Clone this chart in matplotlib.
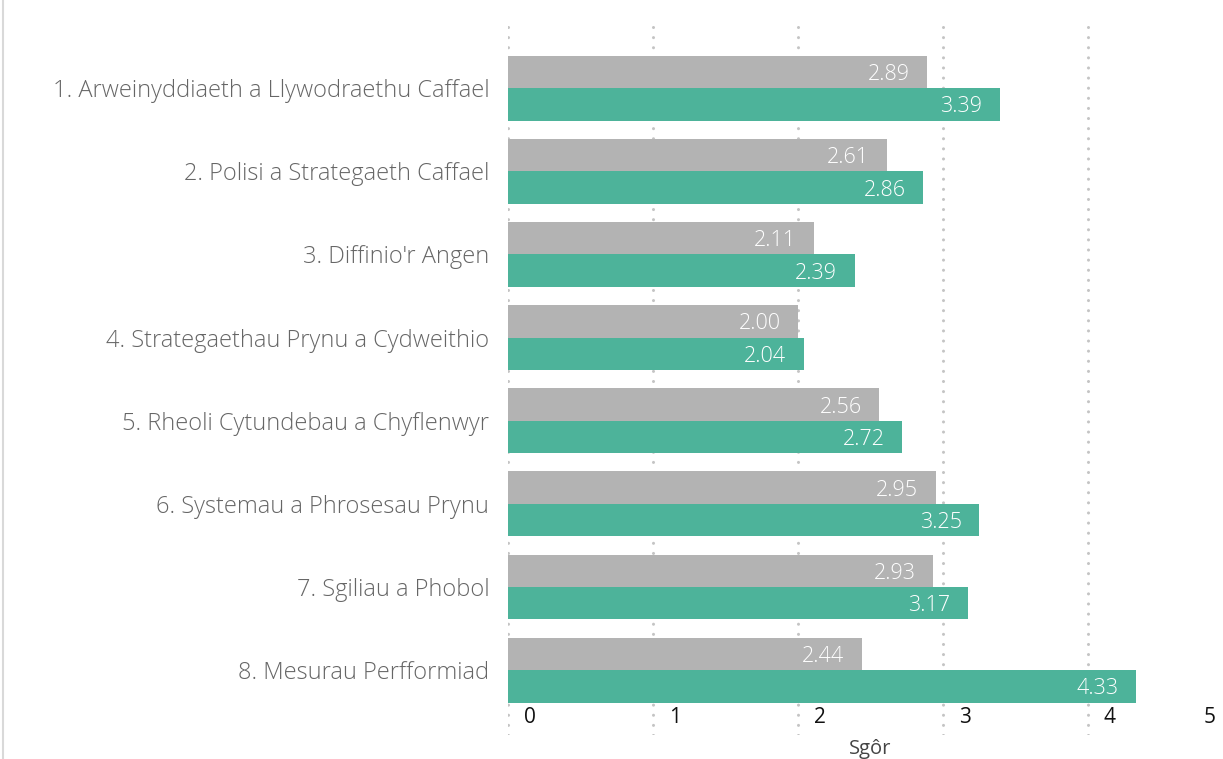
import numpy as np
import matplotlib.pyplot as plt
from matplotlib.lines import Line2D

plt.rcParams['font.family'] = ['Open Sans', 'DejaVu Sans']

# data
categories = [
    "1. Arweinyddiaeth a Llywodraethu Caffael",
    "2. Polisi a Strategaeth Caffael",
    "3. Diffinio'r Angen",
    "4. Strategaethau Prynu a Cydweithio",
    "5. Rheoli Cytundebau a Chyflenwyr",
    "6. Systemau a Phrosesau Prynu",
    "7. Sgiliau a Phobol",
    "8. Mesurau Perfformiad",
]
grey_vals = [2.89, 2.61, 2.11, 2.00, 2.56, 2.95, 2.93, 2.44]
green_vals = [3.39, 2.86, 2.39, 2.04, 2.72, 3.25, 3.17, 4.33]
tick_vals = [0, 1, 2, 3, 4, 5]

grey = '#b3b3b3'
green = '#4db39a'

fig = plt.figure(figsize=(12.23, 7.59), dpi=100)
ax = fig.add_axes([508 / 1223, 24 / 759, 1 - 508 / 1223, 1 - 44 / 759])

y = np.arange(len(categories))
h = 0.39
ax.barh(y - h / 2, grey_vals, height=h, color=grey, zorder=2)
ax.barh(y + h / 2, green_vals, height=h, color=green, zorder=2)

for i in range(len(categories)):
    ax.text(grey_vals[i] - 0.12, y[i] - h / 2, f"{grey_vals[i]:.2f}", ha='right', va='center_baseline',
            color='white', fontsize=15.5, fontweight='light', zorder=3)
    ax.text(green_vals[i] - 0.12, y[i] + h / 2, f"{green_vals[i]:.2f}", ha='right', va='center_baseline',
            color='white', fontsize=15.5, fontweight='light', zorder=3)
    ax.text(-0.13, y[i], categories[i], ha='right', va='center_baseline', color='#666666',
            fontsize=17, fontweight='light')

for t in tick_vals[:-1]:
    ax.axvline(t, color='#c4c4c4', lw=2.2, ls=(0, (0.01, 3.3)), dash_capstyle='round', zorder=1)

# tick labels sit a bit right of the gridlines
for t in tick_vals:
    xpos = t + 0.15 if t < 5 else 4.84
    ax.text(xpos, 7.57, str(t), ha='center', va='center', color='#111111', fontsize=15)

ax.set_xlim(0, 4.93)
ax.set_ylim(7.78, -0.82)
ax.axis('off')

fig.text(870 / 1223, 1 - 749 / 759, "Sgôr", ha='center', va='center', color='#444444', fontsize=14.5)
fig.add_artist(Line2D([3 / 1223, 3 / 1223], [0, 1], color='#d9d9d9', lw=1.5, transform=fig.transFigure))

fig.savefig('out.png', dpi=100)
